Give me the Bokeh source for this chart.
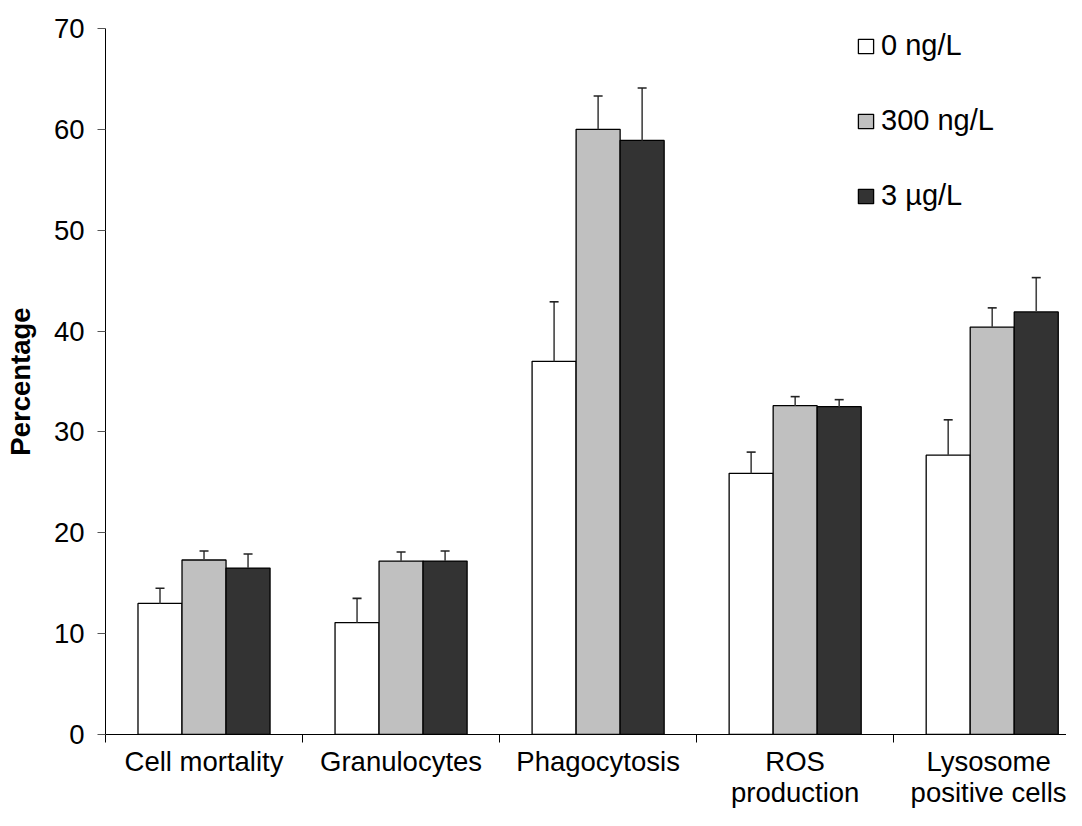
import numpy as np
from bokeh.plotting import figure
from bokeh.models import (Range1d, FixedTicker, Legend, LegendItem, Whisker,
                          TeeHead, ColumnDataSource)
from bokeh.embed import file_html
from bokeh.resources import INLINE

# ---- data ----
categories = ["Cell mortality", "Granulocytes", "Phagocytosis",
              "ROS\nproduction", "Lysosome\npositive cells"]
series_names = ["0 ng/L", "300 ng/L", "3 µg/L"]
vals_0ng = [13.0, 11.1, 37.0, 25.9, 27.7]
vals_300ng = [17.3, 17.2, 60.0, 32.6, 40.4]
vals_3ug = [16.5, 17.2, 58.9, 32.5, 41.9]
err_0ng = [1.5, 2.4, 5.9, 2.1, 3.5]
err_300ng = [0.9, 0.9, 3.3, 0.9, 1.9]
err_3ug = [1.4, 1.0, 5.2, 0.7, 3.4]
y_ticks = [0, 10, 20, 30, 40, 50, 60, 70]

values = [vals_0ng, vals_300ng, vals_3ug]
errors = [err_0ng, err_300ng, err_3ug]
fills = ["#FFFFFF", "#C0C0C0", "#333333"]

FONT = "Liberation Sans"
FS = "27.5px"

p = figure(width=1066, height=810, output_backend="svg", toolbar_location=None,
           x_range=Range1d(0, 4.877), y_range=Range1d(0, 70),
           min_border_left=105, min_border_right=0, min_border_top=28,
           min_border_bottom=76)
p.outline_line_color = None
p.xgrid.visible = False
p.ygrid.visible = False
p.background_fill_color = "white"
p.border_fill_color = "white"

bw = 0.2234
centers = np.arange(len(categories)) + 0.5
renderers = []
for j, (vals, errs, col) in enumerate(zip(values, errors, fills)):
    xs = centers + (j - 1) * bw
    vals = np.array(vals)
    r = p.vbar(x=xs, top=vals, bottom=0, width=bw, fill_color=col,
               line_color="black", line_width=1.3)
    renderers.append(r)
    src = ColumnDataSource(dict(base=xs, lower=vals, upper=vals + np.array(errs)))
    w = Whisker(base="base", lower="lower", upper="upper", source=src,
                dimension="height", line_color="#444444", line_width=1.6,
                upper_head=TeeHead(size=9, line_color="#222222", line_width=1.6),
                lower_head=None, level="overlay")
    p.add_layout(w)

# y axis
ya = p.yaxis[0]
ya.ticker = FixedTicker(ticks=y_ticks)
ya.minor_tick_line_color = None
ya.major_tick_out = 8
ya.major_tick_in = 0
ya.major_tick_line_color = "#555555"
ya.axis_line_color = "black"
ya.major_label_standoff = 13
ya.major_label_text_font = FONT
ya.major_label_text_font_size = FS
ya.major_label_text_color = "black"
ya.axis_label = "Percentage"
ya.axis_label_text_font = FONT
ya.axis_label_text_font_size = FS
ya.axis_label_text_font_style = "bold"
ya.axis_label_text_color = "black"
ya.axis_label_standoff = 15

# x axis
xa = p.xaxis[0]
xa.ticker = FixedTicker(ticks=list(centers), minor_ticks=list(range(len(categories) + 1)))
xa.major_label_overrides = {float(c): lab for c, lab in zip(centers, categories)}
xa.major_tick_out = 0
xa.major_tick_in = 0
xa.minor_tick_out = 8
xa.minor_tick_in = 0
xa.minor_tick_line_color = "black"
xa.axis_line_color = "black"
xa.major_label_standoff = 3
xa.major_label_text_font = FONT
xa.major_label_text_font_size = FS
xa.major_label_text_color = "black"
xa.major_label_text_line_height = 1.0

legend = Legend(items=[LegendItem(label=n, renderers=[r]) for n, r in zip(series_names, renderers)],
                location=(751, 522), orientation="vertical",
                glyph_width=19, glyph_height=18, spacing=42, padding=0, margin=0,
                label_standoff=6, label_text_font=FONT, label_text_font_size="29px",
                label_text_color="black", border_line_color=None,
                background_fill_alpha=0)
p.add_layout(legend)

open("out.html", "w").write(file_html(p, INLINE))
